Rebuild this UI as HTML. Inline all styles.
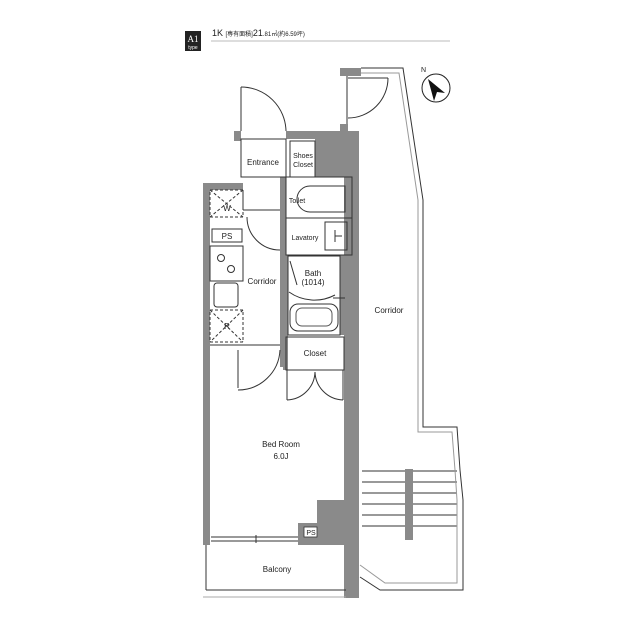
<!DOCTYPE html>
<html><head><meta charset="utf-8"><style>
html,body{margin:0;padding:0;background:#fff;}
svg{display:block;font-family:"Liberation Sans","Noto Sans CJK JP",sans-serif;}
</style></head><body>
<svg width="640" height="640" viewBox="0 0 640 640">
<!-- header -->
<rect x="185" y="31" width="16" height="20" fill="#222"/>
<text x="193" y="42" font-size="9" fill="#fff" text-anchor="middle" font-family="Liberation Serif">A1</text>
<text x="193" y="49" font-size="5" fill="#fff" text-anchor="middle">type</text>
<text x="212" y="36" font-size="9" fill="#222">1K <tspan font-size="6">[専有面積]</tspan>21<tspan font-size="6">.81㎡(約6.59坪)</tspan></text>
<line x1="211" y1="41" x2="450" y2="41" stroke="#bbb" stroke-width="1"/>

<!-- compass -->
<circle cx="436" cy="88" r="14" fill="none" stroke="#222" stroke-width="1"/>
<polygon points="428,79 445,93 437,92 434,101" fill="#111"/>
<text x="421" y="72" font-size="7" fill="#222">N</text>

<g fill="#8a8a8a">
<rect x="340" y="68" width="21" height="8"/>
<rect x="340" y="124" width="8" height="8"/>
<rect x="286" y="131" width="72" height="8"/>
<rect x="315" y="131" width="44" height="46"/>
<rect x="344" y="131" width="15" height="467"/>
<rect x="234" y="131" width="7" height="10"/>
<rect x="203" y="183" width="40" height="7"/>
<rect x="203" y="183" width="7" height="362"/>
<rect x="280" y="177" width="6" height="190"/>
<rect x="340" y="255" width="5" height="80"/>
<rect x="283" y="255" width="5" height="115"/>
<rect x="317" y="500" width="42" height="45"/>
<rect x="298" y="523" width="20" height="22"/>
</g>

<g fill="none" stroke="#333" stroke-width="1">
<line x1="347" y1="76" x2="347" y2="124"/>
<line x1="348" y1="78" x2="388" y2="78"/>
<path d="M388,78 A40,40 0 0 1 348,118"/>
<line x1="241" y1="87" x2="241" y2="131"/>
<path d="M241,87 A45,45 0 0 1 286,131"/>
<rect x="241" y="139" width="45" height="38"/>
<rect x="290" y="141" width="25" height="36"/>
<rect x="286" y="177" width="66" height="78"/>
<line x1="286" y1="218" x2="352" y2="218"/>
<path d="M310,186 H345 V212 H310 A13,13 0 0 1 310,186 Z"/>
<line x1="318" y1="186" x2="332" y2="186" stroke="#999" stroke-width="2"/>
<rect x="325" y="222" width="22" height="28"/>
<line x1="335" y1="236" x2="342" y2="236"/>
<line x1="335" y1="230" x2="335" y2="242"/>
<line x1="243" y1="190" x2="243" y2="210"/>
<line x1="243" y1="210" x2="280" y2="210"/>
<path d="M247,217 A33,33 0 0 0 280,250"/>
<rect x="288" y="256" width="52" height="79"/>
<rect x="290" y="304" width="48" height="27" rx="8"/>
<rect x="296" y="308" width="36" height="18" rx="6" stroke="#555"/>
<path d="M289,292 A44,44 0 0 0 335,295"/>
<line x1="290" y1="261" x2="297" y2="285"/>
<line x1="333" y1="298" x2="345" y2="298"/>
<rect x="286" y="337" width="58" height="33"/>
<!-- closet double doors -->
<path d="M287,370 V400 M287,400 A29,29 0 0 0 315,372 M343,370 V400 M343,400 A29,29 0 0 1 315,372"/>
<rect x="210" y="190" width="33" height="27" stroke-dasharray="3,2"/>
<line x1="210" y1="190" x2="243" y2="217" stroke-dasharray="3,2"/>
<line x1="243" y1="190" x2="210" y2="217" stroke-dasharray="3,2"/>
<rect x="212" y="229" width="30" height="13"/>
<rect x="210" y="246" width="33" height="35"/>
<circle cx="221" cy="258" r="3.5"/>
<circle cx="231" cy="269" r="3.5"/>
<rect x="214" y="283" width="24" height="24" rx="3"/>
<rect x="210" y="310" width="33" height="32" stroke-dasharray="3,2"/>
<line x1="210" y1="310" x2="243" y2="342" stroke-dasharray="3,2"/>
<line x1="243" y1="310" x2="210" y2="342" stroke-dasharray="3,2"/>
<line x1="210" y1="345" x2="280" y2="345"/>
<line x1="238" y1="350" x2="238" y2="388"/>
<path d="M238,390 A42,42 0 0 0 280,350"/>
<line x1="211" y1="537" x2="298" y2="537"/>
<line x1="211" y1="541" x2="298" y2="541"/>
<line x1="256" y1="535" x2="256" y2="543"/>
<line x1="206" y1="545" x2="206" y2="590"/>
<line x1="206" y1="590" x2="346" y2="590"/>
<line x1="362" y1="471" x2="457" y2="471"/>
<line x1="362" y1="482" x2="457" y2="482"/>
<line x1="362" y1="493" x2="457" y2="493"/>
<line x1="362" y1="504" x2="457" y2="504"/>
<line x1="362" y1="515" x2="457" y2="515"/>
<line x1="362" y1="526" x2="457" y2="526"/>
<polyline points="361,68 403,68 423,200 423,427 457,427 460,470 463,500 463,590 380,590 360,577"/>
<polyline points="361,73 399,73 418,200 418,432 452,432 455,470 457,500 457,583 385,583 360,565" stroke="#999"/>
</g>
<line x1="203" y1="597" x2="346" y2="597" stroke="#aaa" stroke-width="1"/>
<rect x="405" y="469" width="8" height="71" fill="#8a8a8a"/>
<rect x="304" y="527" width="13" height="10" fill="#fff" stroke="#333" stroke-width="0.8"/>

<g font-size="8" fill="#222" text-anchor="middle">
<text x="263" y="165">Entrance</text>
<text x="303" y="158" font-size="7">Shoes</text>
<text x="303" y="167" font-size="7">Closet</text>
<text x="297" y="203" font-size="7">Toilet</text>
<text x="305" y="240" font-size="7">Lavatory</text>
<text x="313" y="276">Bath</text>
<text x="313" y="285">(1014)</text>
<text x="262" y="284">Corridor</text>
<text x="315" y="356">Closet</text>
<text x="281" y="447">Bed Room</text>
<text x="281" y="459">6.0J</text>
<text x="277" y="572">Balcony</text>
<text x="389" y="313">Corridor</text>
<text x="227" y="211">W</text>
<text x="227" y="239">PS</text>
<text x="227" y="329">R</text>
<text x="311" y="535" font-size="7">PS</text>
</g>
</svg>
</body></html>
